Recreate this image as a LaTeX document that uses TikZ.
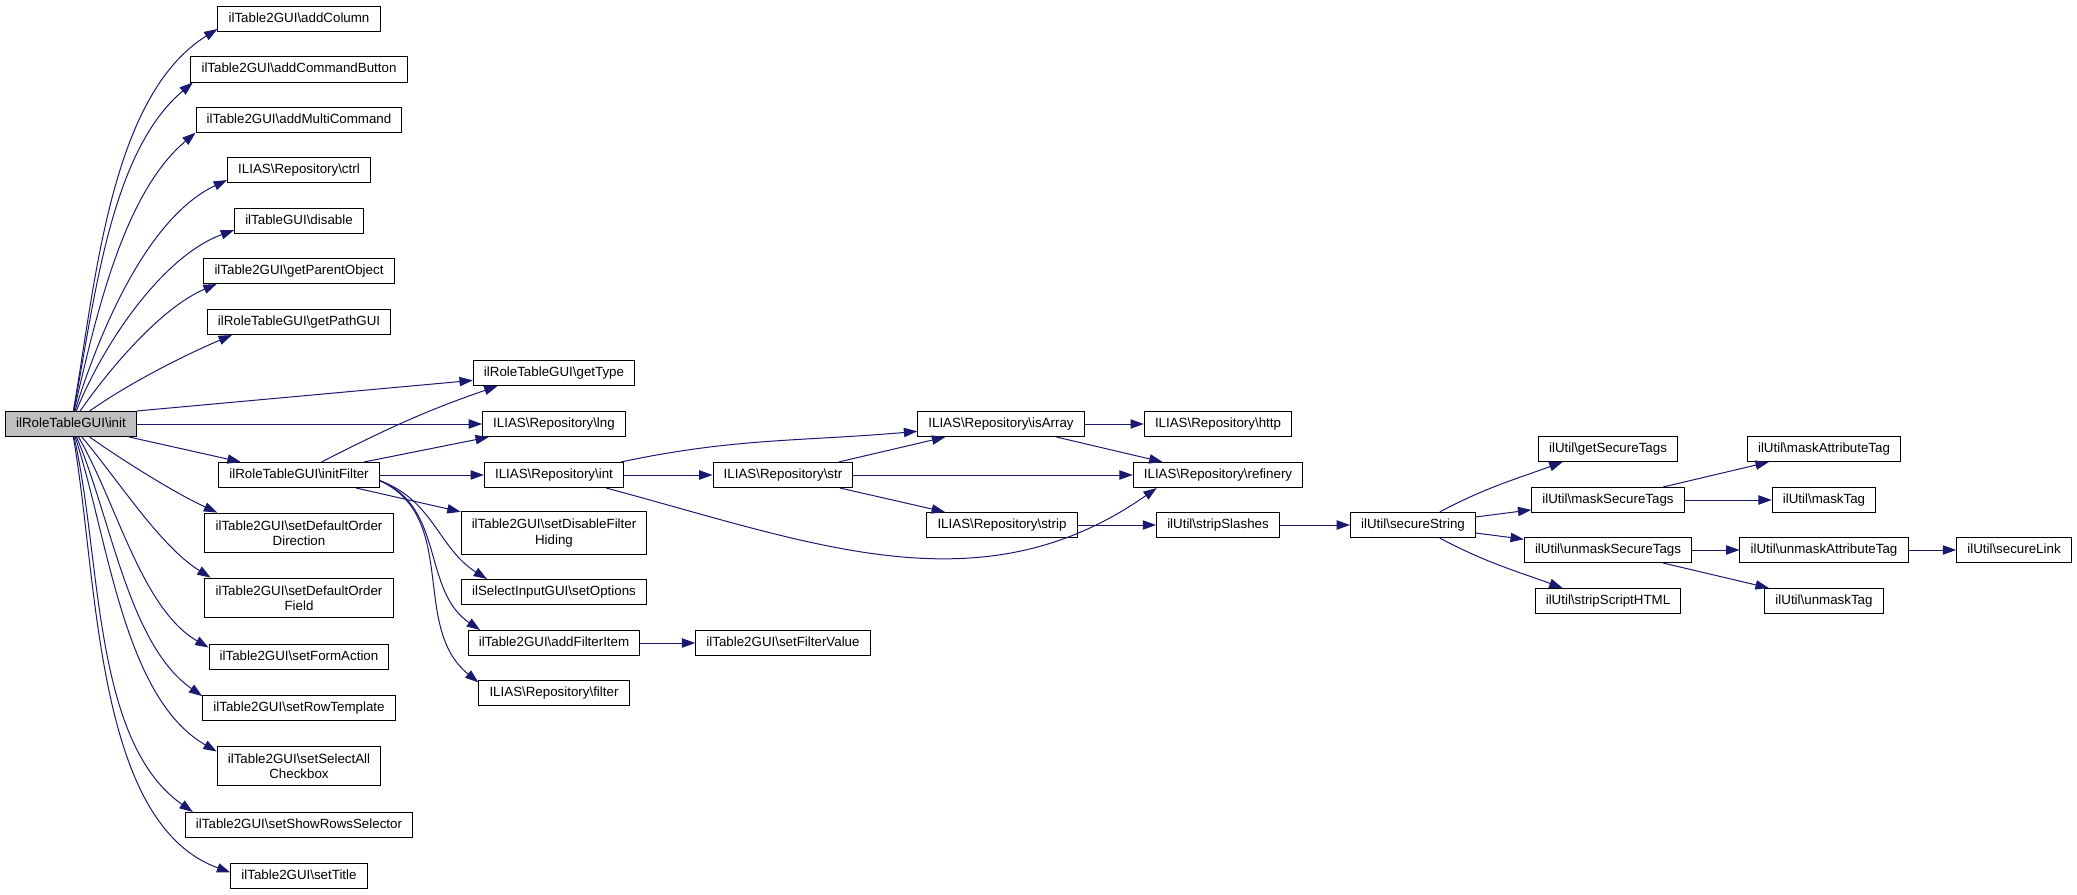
\documentclass[tikz,border=0pt]{standalone}
\usepackage{fontspec}
\setmainfont{Liberation Sans}
\usetikzlibrary{arrows.meta}
\definecolor{edgeblue}{HTML}{191970}
\definecolor{rootgray}{HTML}{BFBFBF}
\newcommand{\bsl}{\textbackslash}

\begin{document}
\begin{tikzpicture}[x=0.75pt, y=-0.75pt,
  box/.style={draw=black, line width=0.75pt, fill=white, align=center,
    font=\fontsize{10}{11.5}\selectfont, inner xsep=8pt},
  b/.style={box, inner ysep=4.5pt, text height=7.4pt, text depth=2.4pt},
  bb/.style={box, inner ysep=5.5pt},
  root/.style={b, fill=rootgray},
  a/.style={-{Triangle[length=10pt, width=7pt]}, line width=0.75pt, draw=edgeblue},
  c/.style={a, looseness=.8}]
  \useasboundingbox (0,0) rectangle (2077,895);
  % caller
  \node[root] (init) at (71,424) {ilRoleTableGUI\bsl{}init};
  % first column
  \node[b] (addcol) at (299,19) {ilTable2GUI\bsl{}addColumn};
  \node[b] (addcmd) at (299,69.5) {ilTable2GUI\bsl{}addCommandButton};
  \node[b] (addmulti) at (299,120) {ilTable2GUI\bsl{}addMultiCommand};
  \node[b] (ctrl) at (299,170) {ILIAS\bsl{}Repository\bsl{}ctrl};
  \node[b] (disable) at (299,221) {ilTableGUI\bsl{}disable};
  \node[b] (parent) at (299,271) {ilTable2GUI\bsl{}getParentObject};
  \node[b] (path) at (299,322) {ilRoleTableGUI\bsl{}getPathGUI};
  \node[b] (initf) at (299,475) {ilRoleTableGUI\bsl{}initFilter};
  \node[bb] (orddir) at (299,533) {ilTable2GUI\bsl{}setDefaultOrder\\Direction};
  \node[bb] (ordfld) at (299,598) {ilTable2GUI\bsl{}setDefaultOrder\\Field};
  \node[b] (form) at (299,657) {ilTable2GUI\bsl{}setFormAction};
  \node[b] (rowtpl) at (299,708) {ilTable2GUI\bsl{}setRowTemplate};
  \node[bb] (selall) at (299,766) {ilTable2GUI\bsl{}setSelectAll\\Checkbox};
  \node[b] (showrows) at (299,825) {ilTable2GUI\bsl{}setShowRowsSelector};
  \node[b] (title) at (299,876) {ilTable2GUI\bsl{}setTitle};
  % second column
  \node[b] (gettype) at (554,373) {ilRoleTableGUI\bsl{}getType};
  \node[b] (lng) at (554,424) {ILIAS\bsl{}Repository\bsl{}lng};
  \node[b] (int) at (554,475) {ILIAS\bsl{}Repository\bsl{}int};
  \node[bb] (hiding) at (554,533) {ilTable2GUI\bsl{}setDisableFilter\\Hiding};
  \node[b] (opts) at (554,592) {ilSelectInputGUI\bsl{}setOptions};
  \node[b] (additem) at (554,643) {ilTable2GUI\bsl{}addFilterItem};
  \node[b] (filter) at (554,693) {ILIAS\bsl{}Repository\bsl{}filter};
  \node[b] (str) at (783,475) {ILIAS\bsl{}Repository\bsl{}str};
  \node[b] (fval) at (783,643) {ilTable2GUI\bsl{}setFilterValue};
  \node[b] (isarr) at (1001,424) {ILIAS\bsl{}Repository\bsl{}isArray};
  \node[b] (strip) at (1002,525) {ILIAS\bsl{}Repository\bsl{}strip};
  \node[b] (http) at (1218,424) {ILIAS\bsl{}Repository\bsl{}http};
  \node[b] (refin) at (1218,475) {ILIAS\bsl{}Repository\bsl{}refinery};
  \node[b] (slashes) at (1218,525) {ilUtil\bsl{}stripSlashes};
  % ilUtil part
  \node[b] (secstr) at (1413,525) {ilUtil\bsl{}secureString};
  \node[b] (gettags) at (1608,449) {ilUtil\bsl{}getSecureTags};
  \node[b] (masktags) at (1608,500) {ilUtil\bsl{}maskSecureTags};
  \node[b] (unmasktags) at (1608,550) {ilUtil\bsl{}unmaskSecureTags};
  \node[b] (striphtml) at (1608,601) {ilUtil\bsl{}stripScriptHTML};
  \node[b] (maskattr) at (1824,449) {ilUtil\bsl{}maskAttributeTag};
  \node[b] (masktag) at (1824,500) {ilUtil\bsl{}maskTag};
  \node[b] (unmaskattr) at (1824,550) {ilUtil\bsl{}unmaskAttributeTag};
  \node[b] (unmasktag) at (1824,601) {ilUtil\bsl{}unmaskTag};
  \node[b] (link) at (2014,550) {ilUtil\bsl{}secureLink};
  % fan out of init
  \draw[c] (init) to[out=80,in=212] (addcol.187);
  \draw[c] (init) to[out=79,in=220] (addcmd.187);
  \draw[c] (init) to[out=77,in=220] (addmulti.187);
  \draw[c] (init) to[out=73,in=205] (ctrl.188);
  \draw[c] (init) to[out=68,in=200] (disable.188);
  \draw[c] (init) to[out=55,in=203] (parent.189);
  \draw[c] (init) to[out=35,in=203] (path.191);
  \draw[a] (init.north east) -- (gettype);
  \draw[a] (init) -- (lng);
  \draw[a] (init) -- (initf);
  \draw[c] (init) to[out=-35,in=155] (orddir.166);
  \draw[c] (init) to[out=-50,in=148] (ordfld.167);
  \draw[c] (init) to[out=-60,in=150] (form.174);
  \draw[c] (init) to[out=-67,in=145] (rowtpl.173);
  \draw[c] (init) to[out=-72,in=150] (selall.170);
  \draw[c] (init) to[out=-77,in=145] (showrows.173);
  \draw[c] (init) to[out=-80,in=160] (title.177);
  % initFilter
  \draw[a] (initf.30) to[out=27,in=199] (gettype.193);
  \draw[a] (initf) -- (lng);
  \draw[a] (initf) -- (int);
  \draw[a] (initf) -- (hiding);
  \draw[a] (initf.-4) to[out=-20,in=148] (opts.169);
  \draw[a] (initf.-4) to[out=-22,in=146] (additem.170);
  \draw[a] (initf.-4) to[out=-25,in=141] (filter.172);
  \draw[a] (additem) -- (fval);
  % repository calls
  \draw[a] (int.11) to[out=12,in=185] (isarr.185);
  \draw[a] (int) -- (str);
  % the long one dips under strip before it climbs into refinery
  \draw[a] (int.-14) to[out=-15,in=215] (refin.192);
  \draw[a] (str) -- (isarr);
  \draw[a] (str) -- (refin);
  \draw[a] (str) -- (strip);
  \draw[a] (isarr) -- (http);
  \draw[a] (isarr) -- (refin);
  \draw[a] (strip) -- (slashes);
  \draw[a] (slashes) -- (secstr);
  % secureString
  \draw[a] (secstr.26) to[out=28,in=200] (gettags.196);
  \draw[a] (secstr) -- (masktags);
  \draw[a] (secstr) -- (unmasktags);
  \draw[a] (secstr.-26) to[out=-28,in=160] (striphtml.164);
  \draw[a] (masktags) -- (maskattr);
  \draw[a] (masktags) -- (masktag);
  \draw[a] (unmasktags) -- (unmaskattr);
  \draw[a] (unmasktags) -- (unmasktag);
  \draw[a] (unmaskattr) -- (link);
\end{tikzpicture}
\end{document}
